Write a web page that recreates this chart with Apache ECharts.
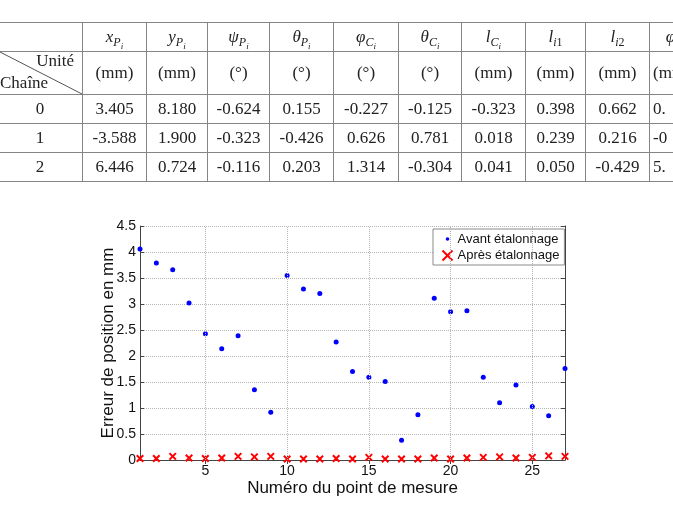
<!DOCTYPE html>
<html><head><meta charset="utf-8">
<script src="https://cdn.jsdelivr.net/npm/echarts@6/dist/echarts.min.js"></script>
<style>
html,body{margin:0;padding:0;width:673px;height:506px;overflow:hidden;background:#fff;}
#chart{position:absolute;left:0;top:0;width:673px;height:506px;}
#tbl{position:absolute;left:-3px;top:22px;width:712px;border-collapse:collapse;table-layout:fixed;font-family:"Liberation Serif",serif;font-size:17px;color:#222;z-index:2;}
#tbl td{border:1px solid #858585;text-align:center;padding:0;white-space:nowrap;overflow:hidden;}
#tbl sub{font-size:12px;vertical-align:-4px;line-height:0;}
#tbl sub sub{font-size:9px;vertical-align:-3px;}
#tbl td.last{text-align:left;padding-left:3px;}
#diag{position:absolute;left:0;top:0;z-index:3;pointer-events:none;}
.lab{position:absolute;font-family:"Liberation Serif",serif;font-size:17px;color:#222;z-index:3;}
</style></head>
<body>
<div id="chart"></div>
<table id="tbl"></table>
<svg id="diag" width="673" height="200"><line x1="-2" y1="51" x2="82" y2="94" stroke="#555" stroke-width="1"/></svg>
<div class="lab" style="right:599px;top:51px;">Unité</div>
<div class="lab" style="left:0px;top:73px;">Chaîne</div>
<script>
// ---- table data ----
const tableHeaders = ['<i>x</i><sub><i>P</i><sub><i>i</i></sub></sub>','<i>y</i><sub><i>P</i><sub><i>i</i></sub></sub>','<i>ψ</i><sub><i>P</i><sub><i>i</i></sub></sub>','<i>θ</i><sub><i>P</i><sub><i>i</i></sub></sub>','<i>φ</i><sub><i>C</i><sub><i>i</i></sub></sub>','<i>θ</i><sub><i>C</i><sub><i>i</i></sub></sub>','<i>l</i><sub><i>C</i><sub><i>i</i></sub></sub>','<i>l</i><sub><i>i</i>1</sub>','<i>l</i><sub><i>i</i>2</sub>','&nbsp;&nbsp;&nbsp;<i>φ</i>'];
const tableUnits = ['(mm)','(mm)','(°)','(°)','(°)','(°)','(mm)','(mm)','(mm)','(mm)'];
const chainLabels = ['0','1','2'];
const row0 = ['3.405','8.180','-0.624','0.155','-0.227','-0.125','-0.323','0.398','0.662','0.'];
const row1 = ['-3.588','1.900','-0.323','-0.426','0.626','0.781','0.018','0.239','0.216','-0'];
const row2 = ['6.446','0.724','-0.116','0.203','1.314','-0.304','0.041','0.050','-0.429','5.'];
const colWidths = [85,64,61,62,64,65,63,64,60,64,60];
const rowHeights = [29,43,29,29,29];

// ---- chart data ----
const pointNumbers = [1,2,3,4,5,6,7,8,9,10,11,12,13,14,15,16,17,18,19,20,21,22,23,24,25,26,27];
const avantEtalonnage = [4.06,3.79,3.66,3.02,2.43,2.14,2.39,1.35,0.92,3.55,3.29,3.20,2.27,1.70,1.59,1.51,0.38,0.87,3.11,2.85,2.87,1.59,1.10,1.44,1.03,0.85,1.76];
const apresEtalonnage = [0.03,0.03,0.07,0.04,0.03,0.04,0.07,0.06,0.07,0.02,0.02,0.02,0.03,0.02,0.05,0.02,0.02,0.02,0.04,0.02,0.04,0.05,0.06,0.04,0.05,0.08,0.07];
const xTicks = [5,10,15,20,25];

// build table
(function(){
  const t = document.getElementById('tbl');
  let html = '<colgroup>' + colWidths.map(w=>'<col style="width:'+w+'px">').join('') + '</colgroup>';
  const rows = [
    [''].concat(tableHeaders),
    [''].concat(tableUnits),
    [chainLabels[0]].concat(row0),
    [chainLabels[1]].concat(row1),
    [chainLabels[2]].concat(row2)
  ];
  rows.forEach((r,i)=>{
    html += '<tr style="height:'+rowHeights[i]+'px">' + r.map((c,j)=>'<td'+(j===r.length-1?' class="last"':'')+'>'+c+'</td>').join('') + '</tr>';
  });
  t.innerHTML = html;
})();

const chart = echarts.init(document.getElementById('chart'), null, {renderer:'canvas'});
const axisColor = '#444';
const crossPath = 'path://M0,0L10,10M10,0L0,10';
const dotIcon = 'path://M0,0M10,10M5,3.2A1.8,1.8,0,1,1,5,6.8A1.8,1.8,0,1,1,5,3.2Z';
chart.setOption({
  animation:false,
  textStyle:{fontFamily:'"Liberation Sans", Arial, sans-serif'},
  grid:{left:140, top:226, width:425, height:234},
  legend:{
    left:433, top:229, orient:'vertical',
    padding:[3,5,2,7], itemGap:2, itemWidth:10, itemHeight:10,
    backgroundColor:'#fff', borderColor:'#8a8a8a', borderWidth:1,
    textStyle:{fontSize:13, color:'#111', lineHeight:14},
    data:[
      {name:'Avant étalonnage', icon:dotIcon, itemStyle:{color:'#0000ff'}},
      {name:'Après étalonnage', icon:crossPath, itemStyle:{color:'none', borderColor:'#ff0000', borderWidth:2}}
    ]
  },
  xAxis:[{
    type:'value', min:1, max:27,
    name:'Numéro du point de mesure', nameLocation:'middle', nameGap:20,
    nameTextStyle:{fontSize:17, color:'#111'},
    axisLine:{show:true, lineStyle:{color:axisColor}},
    axisTick:{show:true, inside:true, length:4, customValues:xTicks, lineStyle:{color:axisColor}},
    axisLabel:{customValues:xTicks, fontSize:14, color:'#111', margin:4},
    splitLine:{show:false}
  },{
    type:'value', min:1, max:27, position:'top',
    axisLine:{show:true, lineStyle:{color:axisColor}},
    axisTick:{show:true, inside:true, length:4, customValues:xTicks, lineStyle:{color:axisColor}},
    axisLabel:{show:false}, splitLine:{show:false}
  }],
  yAxis:[{
    type:'value', min:0, max:4.5, interval:0.5,
    name:'Erreur de position en mm', nameLocation:'middle', nameGap:23, nameRotate:90,
    nameMoveOverlap:false,
    nameTextStyle:{fontSize:17, color:'#111'},
    axisLine:{show:true, lineStyle:{color:axisColor}},
    axisTick:{show:true, inside:true, length:4, lineStyle:{color:axisColor}},
    axisLabel:{fontSize:14, color:'#111', margin:4},
    splitLine:{show:true, lineStyle:{type:'dotted', color:'#b5b5b5', width:1}}
  },{
    type:'value', min:0, max:4.5, interval:0.5, position:'right',
    axisLine:{show:true, lineStyle:{color:axisColor}},
    axisTick:{show:true, inside:true, length:4, lineStyle:{color:axisColor}},
    axisLabel:{show:false}, splitLine:{show:false}
  }],
  series:[{
    name:'Avant étalonnage', type:'scatter',
    symbol:'circle', symbolSize:5,
    itemStyle:{color:'#0000ff', opacity:1},
    data: pointNumbers.map((x,i)=>[x, avantEtalonnage[i]]),
    markLine:{
      silent:true, symbol:['none','none'], label:{show:false},
      lineStyle:{type:'dotted', color:'#b5b5b5', width:1},
      data: xTicks.map(v=>({xAxis:v})),
      animation:false
    },
    z:3
  },{
    name:'Après étalonnage', type:'scatter',
    symbol:crossPath, symbolSize:6.5,
    itemStyle:{color:'none', borderColor:'#ff0000', borderWidth:2, opacity:1},
    data: pointNumbers.map((x,i)=>[x, apresEtalonnage[i]]),
    z:3
  }]
});
</script>
</body></html>
